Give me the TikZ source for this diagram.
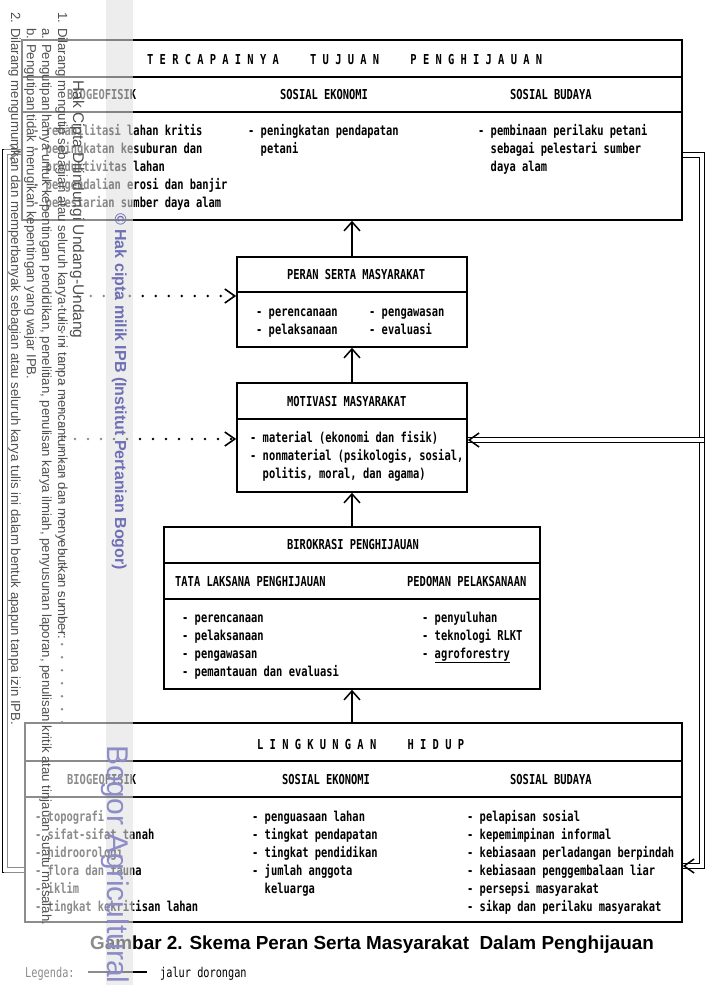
\documentclass[tikz,border=0pt]{standalone}
\usepackage{fontspec}
\usetikzlibrary{arrows.meta,calc,fit}
\newfontfamily\dmfam[FakeStretch=0.76]{DejaVu Sans Mono}
\newfontfamily\wmfam{Liberation Sans}
\newfontfamily\capfam{Liberation Sans}
\newcommand\dm{\dmfam\bfseries\fontsize{13.7}{18}\selectfont}
\newcommand\dmr{\dmfam\fontsize{13.5}{16}\selectfont}
\newcommand\st{\rule{0pt}{10.5pt}}
\newcommand\ind{\hphantom{- }}
\definecolor{wmgray}{HTML}{505050}
\definecolor{wmpurple}{HTML}{6F6FB5}
\definecolor{wmpurple2}{HTML}{8C8CC8}
\begin{document}
\begin{tikzpicture}[x=1pt,y=-1pt,
  box/.style={draw, line width=1.6pt, inner sep=0pt},
  sep/.style={line width=1.4pt},
  txt/.style={font=\dm, anchor=north west, align=left, inner sep=0pt},
  arr/.style={line width=1.5pt, -{Straight Barb[length=9pt,width=16pt,line width=1.5pt]}},
  dotsarr/.style={line width=2.8pt, line cap=round, dash pattern=on 0pt off 13pt,
     -{Straight Barb[length=10pt,width=14pt,line width=1.6pt]}},
  tipV/.style={line width=1.5pt, -{Straight Barb[length=10pt,width=14pt,line width=1.5pt]}},
  dbl/.style={line width=1pt, double distance=4pt},
  wm/.style={rotate=-90, anchor=base west, inner sep=0pt, text=wmgray, font=\wmfam\fontsize{13.2}{15}\selectfont},
]
\useasboundingbox (0,0) rectangle (707,985);
\fill[white] (0,0) rectangle (707,985);

% ---------- boxes ----------
\coordinate (tujA) at (22,40);   \coordinate (tujB) at (682,220);
\coordinate (perA) at (237,257); \coordinate (perB) at (467,347);
\coordinate (motA) at (237,383); \coordinate (motB) at (467,492);
\coordinate (birA) at (164,527); \coordinate (birB) at (540,689);
\coordinate (linA) at (25,723);  \coordinate (linB) at (682,922);
\node[box, fit=(tujA)(tujB)] (tuj) {};
\node[box, fit=(perA)(perB)] (per) {};
\node[box, fit=(motA)(motB)] (mot) {};
\node[box, fit=(birA)(birB)] (bir) {};
\node[box, fit=(linA)(linB)] (lin) {};

\draw[sep] (tuj.west |- 0,77) -- (tuj.east |- 0,77);
\draw[sep] (tuj.west |- 0,112) -- (tuj.east |- 0,112);
\draw[sep] (per.west |- 0,292) -- (per.east |- 0,292);
\draw[sep] (mot.west |- 0,419) -- (mot.east |- 0,419);
\draw[sep] (bir.west |- 0,563) -- (bir.east |- 0,563);
\draw[sep] (bir.west |- 0,599) -- (bir.east |- 0,599);
\draw[sep] (lin.west |- 0,761) -- (lin.east |- 0,761);
\draw[sep] (lin.west |- 0,797) -- (lin.east |- 0,797);

% ---------- top box text ----------
\node[txt] (tujT) at (147,53.5) {\st T E R C A P A I N Y A\ \ \ \ \ T U J U A N\ \ \ \ \ P E N G H I J A U A N};
\node[txt] (tujH1) at (67,88.5) {\st BIOGEOFISIK};
\node[txt] (tujH2) at (280,88.5) {\st SOSIAL EKONOMI};
\node[txt] (tujH3) at (510,88.5) {\st SOSIAL BUDAYA};
\node[txt] (tujC1) at (33,124.5) {\st - rehabilitasi lahan kritis\\- peningkatan kesuburan dan\\\ind produktivitas lahan\\- pengendalian erosi dan banjir\\- pelestarian sumber daya alam};
\node[txt] (tujC2) at (248,124.5) {\st - peningkatan pendapatan\\\ind petani};
\node[txt] (tujC3) at (478,124.5) {\st - pembinaan perilaku petani\\\ind sebagai pelestari sumber\\\ind daya alam};

% ---------- peran serta ----------
\node[txt] (perT) at (287,268.5) {\st PERAN SERTA MASYARAKAT};
\node[txt] (perC1) at (256,305.5) {\st - perencanaan\\- pelaksanaan};
\node[txt] (perC2) at (369,305.5) {\st - pengawasan\\- evaluasi};

% ---------- motivasi ----------
\node[txt] (motT) at (287,395.5) {\st MOTIVASI MASYARAKAT};
\node[txt] (motC) at (250,431.5) {\st - material (ekonomi dan fisik)\\- nonmaterial (psikologis, sosial,\\\ind politis, moral, dan agama)};

% ---------- birokrasi ----------
\node[txt] (birT) at (287,538.5) {\st BIROKRASI PENGHIJAUAN};
\node[txt] (birH1) at (175,575.5) {\st TATA LAKSANA PENGHIJAUAN};
\node[txt] (birH2) at (407,575.5) {\st PEDOMAN PELAKSANAAN};
\node[txt] (birC1) at (182,611.5) {\st - perencanaan\\- pelaksanaan\\- pengawasan\\- pemantauan dan evaluasi};
\node[txt] (birC2) at (422,611.5) {\st - penyuluhan\\- teknologi RLKT\\- \underline{agroforestry}};

% ---------- lingkungan hidup ----------
\node[txt] (linT) at (257,738.5) {\st L I N G K U N G A N\ \ \ \ \ H I D U P};
\node[txt] (linH1) at (67,773.5) {\st BIOGEOFISIK};
\node[txt] (linH2) at (282,773.5) {\st SOSIAL EKONOMI};
\node[txt] (linH3) at (510,773.5) {\st SOSIAL BUDAYA};
\node[txt] (linC1) at (35,810.5) {\st - topografi\\- sifat-sifat tanah\\- hidroorologi\\- flora dan fauna\\- iklim\\- tingkat kekritisan lahan};
\node[txt] (linC2) at (252,810.5) {\st - penguasaan lahan\\- tingkat pendapatan\\- tingkat pendidikan\\- jumlah anggota\\\ind keluarga};
\node[txt] (linC3) at (467,810.5) {\st - pelapisan sosial\\- kepemimpinan informal\\- kebiasaan perladangan berpindah\\- kebiasaan penggembalaan liar\\- persepsi masyarakat\\- sikap dan perilaku masyarakat};

% ---------- main arrows ----------
\draw[arr] (per.north) -- (tuj.south);
\draw[arr] (mot.north) -- (per.south);
\draw[arr] (bir.north) -- (mot.south);
\draw[arr] (lin.north -| bir.south) -- (bir.south);

% ---------- right double path ----------
\coordinate (r1) at (702,155);
\coordinate (r2) at (702,440);
\coordinate (r3) at (702,866);
\draw[dbl] (tuj.east |- r1) -- (r1) -- (r3) -- (lin.east |- r3);
\draw[dbl] ($(r2)+(2,0)$) -- (mot.east |- r2);
\draw[tipV] ($(lin.east |- r3)+(1,0)$) -- (lin.east |- r3);
\draw[tipV] ($(mot.east |- r2)+(1,0)$) -- (mot.east |- r2);

% ---------- left double path ----------
\coordinate (l1) at (5,152);
\coordinate (l2) at (5,870);
\draw[dbl] (lin.west |- l2) -- (l2) -- (l1) -- (tuj.west |- l1);
\draw[tipV] ($(tuj.west |- l1)+(-1,0)$) -- (tuj.west |- l1);

% ---------- dotted paths ----------
\coordinate (d1) at (62,296);
\coordinate (d2) at (62,439);
\draw[dotsarr] (lin.north -| d1) -- (d1) -- (per.west |- d1);
\draw[dotsarr] (d2) -- (mot.west |- d2);

% ---------- caption and legend ----------
\node[font=\capfam\bfseries\fontsize{18.9}{21}\selectfont, anchor=base west, inner sep=0pt] (cap) at (90,949) {Gambar 2. Skema Peran Serta Masyarakat\ \ Dalam Penghijauan};
\node[font=\dmr, anchor=base west, inner sep=0pt] (leg) at (25,977) {Legenda:};
\coordinate (lg1) at (88,972);
\coordinate (lg2) at (147,972);
\draw[line width=1.5pt] (lg1) -- (lg2);
\node[font=\dmr, anchor=base west, inner sep=0pt] (legt) at (160,977) {jalur dorongan};

% ---------- watermark ----------
\fill[white, opacity=0.55] (4,0) rectangle (133,985);
\fill[black, opacity=0.07] (106,0) rectangle (133,985);
\node[wm, font=\wmfam\fontsize{15.5}{17}\selectfont] (w0) at (73,80) {Hak Cipta Dilindungi Undang-Undang};
\node[wm] (w1) at (58,12) {1. Dilarang mengutip sebagian atau seluruh karya tulis ini tanpa mencantumkan dan menyebutkan sumber:};
\node[wm] (wa) at (42,28) {a. Pengutipan hanya untuk kepentingan pendidikan, penelitian, penulisan karya ilmiah, penyusunan laporan, penulisan kritik atau tinjauan suatu masalah.};
\node[wm] (wb) at (27,28) {b. Pengutipan tidak merugikan kepentingan yang wajar IPB.};
\node[wm] (w2) at (11,12) {2. Dilarang mengumumkan dan memperbanyak sebagian atau seluruh karya tulis ini dalam bentuk apapun tanpa izin IPB.};
\node[wm, text=wmpurple, font=\wmfam\bfseries\fontsize{16}{18}\selectfont] (wc) at (115,213) {© Hak cipta milik IPB (Institut Pertanian Bogor)};
\node[wm, text=wmpurple2, font=\wmfam\fontsize{30}{32}\selectfont] (wd) at (107,745) {Bogor Agricultural};
\end{tikzpicture}
\end{document}
